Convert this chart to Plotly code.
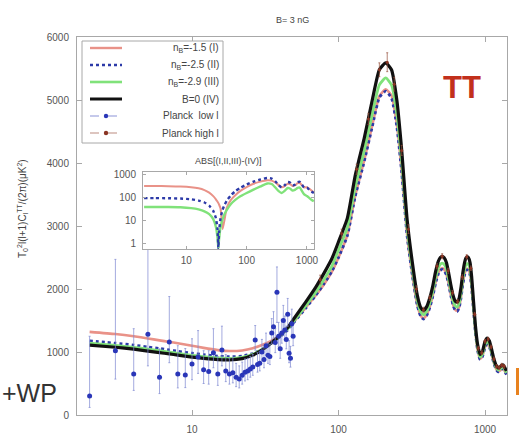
import plotly.graph_objects as go

# ---------------- data ----------------
# multipoles for the model spectra
ell = [2, 3, 4, 5, 6, 7, 8, 10, 12, 15, 18, 22, 26, 30, 35, 40, 45, 50, 60, 70, 80, 90,
       100, 115, 130, 150, 170, 190, 210, 230, 250, 270, 294, 320, 345, 365,
       380, 400, 420, 440, 460, 480, 495, 510, 525, 545, 565, 585, 605, 625, 645, 665,
       685, 705, 725, 740, 755, 770, 790, 810, 835, 860, 890, 925, 960, 1000, 1035,
       1070, 1110, 1150, 1190, 1230, 1270, 1300, 1330, 1360, 1400]

# n_B = -1.5 (I)
dl_I = [1320, 1285, 1250, 1215, 1185, 1160, 1140, 1100, 1065, 1030, 1015, 1025, 1060,
        1110, 1180, 1270, 1370, 1490, 1710, 1900, 2080, 2270, 2500, 2860, 3480, 4050,
        4600, 5060, 5170, 5070, 4620, 3880, 2860, 2210, 1750, 1570,
        1536, 1591, 1721, 1896, 2109, 2257, 2313, 2331, 2313, 2239, 2081, 1906, 1758,
        1674, 1656, 1711, 1869, 2081, 2239, 2303, 2322, 2313, 2239, 2035, 1665, 1314,
        1036, 888, 934, 1082, 1130, 1092, 962, 823, 731, 690, 708, 731, 734, 703, 648]

# n_B = -2.5 (II)
dl_II = [1175, 1140, 1110, 1080, 1055, 1033, 1012, 980, 958, 935, 925, 935, 975, 1035,
         1140, 1245, 1350, 1480, 1700, 1900, 2090, 2280, 2500, 2850, 3470, 4030, 4580,
         5040, 5140, 5030, 4580, 3850, 2840, 2200, 1740, 1560,
         1524, 1579, 1707, 1882, 2093, 2240, 2295, 2313, 2295, 2222, 2066, 1891, 1744,
         1662, 1643, 1698, 1854, 2066, 2222, 2286, 2304, 2295, 2222, 2020, 1652, 1304,
         1028, 881, 927, 1074, 1122, 1083, 955, 817, 725, 685, 702, 725, 729, 698, 643]

# n_B = -2.9 (III)
dl_III = [1140, 1105, 1075, 1045, 1020, 999, 979, 948, 927, 906, 899, 915, 965, 1040,
          1150, 1260, 1370, 1500, 1740, 1950, 2160, 2360, 2620, 2980, 3620, 4200, 4780,
          5240, 5350, 5240, 4780, 4020, 2970, 2300, 1820, 1630,
          1589, 1646, 1780, 1962, 2182, 2335, 2393, 2412, 2393, 2316, 2153, 1971, 1818,
          1732, 1713, 1770, 1933, 2153, 2316, 2383, 2402, 2393, 2316, 2105, 1723, 1359,
          1072, 919, 967, 1120, 1169, 1129, 995, 852, 756, 714, 732, 756, 760, 727, 670]

# B = 0 (IV)
dl_IV = [1110, 1075, 1045, 1015, 990, 970, 950, 920, 900, 880, 875, 895, 950, 1030,
         1150, 1270, 1390, 1540, 1800, 2030, 2260, 2480, 2750, 3130, 3800, 4400, 5000,
         5480, 5590, 5480, 5000, 4200, 3100, 2400, 1900, 1700,
         1660, 1720, 1860, 2050, 2280, 2440, 2500, 2520, 2500, 2420, 2250, 2060, 1900,
         1810, 1790, 1850, 2020, 2250, 2420, 2490, 2510, 2500, 2420, 2200, 1800, 1420,
         1120, 960, 1010, 1170, 1222, 1180, 1040, 890, 790, 746, 765, 790, 794, 760, 700]

# Planck low-l band powers
lowl_ell = list(range(2, 50))
lowl_dl = [300, 1020, 650, 1280, 600, 1160, 650, 635, 810, 920, 720, 690, 990, 650, 1030,
           700, 650, 670, 600, 570, 630, 680, 700, 730, 760, 1190, 800, 820, 1000, 880,
           1100, 950, 930, 1300, 1400, 1150, 1950, 1250, 1050, 1300, 1500, 1350, 1200,
           1600, 980, 900, 1450, 1250]
lowl_up = [950, 1450, 720, 1370, 450, 720, 450, 420, 400, 420, 300, 330, 380, 280, 380,
           260, 250, 240, 220, 210, 210, 210, 200, 200, 200, 230, 190, 190, 200, 190,
           200, 190, 190, 230, 240, 220, 400, 220, 200, 220, 240, 220, 210, 250, 200,
           190, 230, 210]
lowl_dn = [180, 450, 260, 500, 260, 330, 220, 200, 250, 260, 220, 200, 240, 180, 250,
           170, 160, 160, 150, 140, 140, 140, 140, 130, 130, 160, 120, 120, 140, 130,
           150, 130, 130, 170, 180, 160, 480, 160, 150, 160, 180, 160, 150, 190, 150,
           140, 170, 150]

# Planck high-l binned band powers
highl_ell = [75, 105, 133, 160, 190, 215, 240, 270, 300, 340, 380, 420, 470, 510, 560,
             600, 650, 700, 750, 800, 850, 900, 950, 1000, 1050, 1100, 1150, 1200, 1250,
             1300, 1350]
highl_dl = [2150, 2880, 3900, 4700, 5480, 5600, 5250, 4200, 2950, 2000, 1670, 1860, 2360,
            2520, 2290, 1940, 1800, 2190, 2510, 2330, 1600, 1060, 990, 1170, 1205, 1080,
            890, 770, 752, 790, 772]
highl_err = [70, 70, 80, 90, 110, 150, 110, 80, 70, 50, 40, 40, 40, 40, 40, 35, 35, 35,
             35, 35, 30, 30, 30, 30, 30, 30, 30, 30, 30, 30, 30]

# |(I,II,III) - (IV)| shown in the inset
ins_ell = [2, 3, 5, 8, 12, 16, 20, 24, 28, 31, 33, 34, 35, 37, 40, 43, 47, 55, 65, 80,
           100, 130, 170, 220, 260, 300, 340, 380, 430, 480, 530, 580, 640, 700, 760,
           820, 900, 1000, 1100, 1200, 1300]
ins_I = [300, 300, 298, 290, 270, 240, 200, 155, 110, 80, 62, 55, 47, 32, 4, 10, 35, 75,
         120, 190, 270, 380, 470, 540, 520, 430, 330, 270, 300, 380, 360, 300, 330, 400,
         420, 330, 260, 270, 230, 190, 160]
ins_II = [90, 90, 89, 86, 80, 70, 58, 42, 25, 12, 4, 0.6, 3, 12, 28, 45, 70, 120, 180,
          260, 350, 470, 580, 680, 640, 480, 330, 260, 330, 450, 420, 320, 350, 440, 460,
          360, 260, 260, 200, 170, 150]
ins_III = [37, 37, 37, 36, 33, 29, 24, 18, 11, 5, 1.6, 0.6, 1.5, 5, 11, 18, 28, 50, 75,
           110, 150, 210, 290, 390, 370, 260, 180, 150, 190, 250, 230, 190, 210, 250, 260,
           190, 130, 110, 90, 75, 65]

labels = ["n<sub>B</sub>=-1.5 (I)", "n<sub>B</sub>=-2.5 (II)", "n<sub>B</sub>=-2.9 (III)",
          "B=0 (IV)", "Planck  low l", "Planck high l"]

# ---------------- layout helpers ----------------
W, H = 519, 439
ML, MR, MT, MB = 77, 12, 37, 24
FONT = "Liberation Sans, Arial, Helvetica, sans-serif"


def px(x):
    return (x - ML) / (W - ML - MR)


def py(y):
    return (H - MB - y) / (H - MT - MB)


C_RED = "#e99288"
C_BLUE = "#2c3aa8"
C_GREEN = "#80e27a"
C_BLACK = "#111111"
C_LOW = "#2a36b8"
C_HIGH = "#8a3524"

model_styles = [
    (dl_I, dict(color=C_RED, width=2.6)),
    (dl_II, dict(color=C_BLUE, width=2.8, dash="dot")),
    (dl_III, dict(color=C_GREEN, width=2.8)),
    (dl_IV, dict(color=C_BLACK, width=3.2)),
]

fig = go.Figure()

for ys, ln in model_styles:
    fig.add_trace(go.Scatter(x=ell, y=ys, mode="lines",
                             line=dict(shape="spline", smoothing=0.5, **ln),
                             showlegend=False, hoverinfo="skip",
                             xaxis="x", yaxis="y"))

fig.add_trace(go.Scatter(
    x=lowl_ell, y=lowl_dl, mode="markers",
    marker=dict(size=5, color=C_LOW),
    error_y=dict(type="data", array=lowl_up, arrayminus=lowl_dn,
                 color="rgba(125,135,210,0.7)", thickness=1, width=1),
    showlegend=False, xaxis="x", yaxis="y"))

fig.add_trace(go.Scatter(
    x=highl_ell, y=highl_dl, mode="markers",
    marker=dict(size=3, color=C_HIGH),
    error_y=dict(type="data", array=highl_err, color="rgba(150,80,60,0.7)",
                 thickness=1, width=1),
    showlegend=False, xaxis="x", yaxis="y"))

# inset curves
for ys, ln in [(ins_I, dict(color=C_RED, width=2)),
               (ins_III, dict(color=C_GREEN, width=2.4)),
               (ins_II, dict(color=C_BLUE, width=2.4, dash="dot"))]:
    fig.add_trace(go.Scatter(x=ins_ell, y=ys, mode="lines",
                             line=dict(shape="spline", smoothing=0.5, **ln),
                             showlegend=False, hoverinfo="skip",
                             xaxis="x2", yaxis="y2"))

axis_common = dict(showgrid=False, zeroline=False, showline=True, linecolor="#a8a8a8",
                   linewidth=1, mirror="ticks", ticks="inside", tickcolor="#a8a8a8",
                   automargin=False,
                   tickfont=dict(family=FONT, size=10, color="#555"))

fig.update_layout(
    width=W, height=H,
    margin=dict(l=ML, r=MR, t=MT, b=MB),
    paper_bgcolor="white", plot_bgcolor="white",
    font=dict(family=FONT, color="#444"),
    xaxis=dict(type="log", range=[0.215, 3.15], tickvals=[10, 100, 1000],
               ticktext=["10", "100", "1000"], ticklen=5, ticklabelstandoff=5,
               domain=[0, 1], anchor="y", **axis_common),
    yaxis=dict(range=[0, 6000], tickvals=[0, 1000, 2000, 3000, 4000, 5000, 6000],
               ticklen=5, ticklabelstandoff=5, domain=[0, 1], anchor="x", **axis_common),
    xaxis2=dict(type="log", range=[0.283, 3.117], tickvals=[10, 100, 1000],
                ticktext=["10", "100", "1000"], ticklen=3, ticklabelstandoff=2,
                domain=[px(143), px(314)], anchor="y2", **axis_common),
    yaxis2=dict(type="log", range=[-0.26, 3.09], tickvals=[1, 10, 100, 1000],
                ticktext=["1", "10", "100", "1000"], ticklen=3, ticklabelstandoff=4,
                domain=[py(249), py(172)], anchor="x2", **axis_common),
)

shapes = []
annotations = []

# inset backdrop
shapes.append(dict(type="rect", xref="paper", yref="paper", layer="below",
                   x0=px(143), x1=px(314), y0=py(249), y1=py(172),
                   fillcolor="white", line=dict(width=0)))

# key box
shapes.append(dict(type="rect", xref="paper", yref="paper",
                   x0=px(82), x1=px(223), y0=py(143), y1=py(41),
                   fillcolor="white", line=dict(color="#a8a8a8", width=1)))

key_lines = [
    dict(color=C_RED, width=2.4),
    dict(color=C_BLUE, width=2.6, dash="dot"),
    dict(color=C_GREEN, width=2.6),
    dict(color=C_BLACK, width=3),
    dict(color="rgba(110,120,205,0.8)", width=1, dash="dash"),
    dict(color="rgba(170,110,95,0.8)", width=1, dash="dash"),
]
key_dots = [None, None, None, None, C_LOW, C_HIGH]
for i, (lab, ln) in enumerate(zip(labels, key_lines)):
    yy = 48 + 17 * i
    shapes.append(dict(type="line", xref="paper", yref="paper",
                       x0=px(90), x1=px(122), y0=py(yy), y1=py(yy), line=ln))
    if key_dots[i]:
        r = 2.2
        shapes.append(dict(type="circle", xref="paper", yref="paper",
                           x0=px(106 - r), x1=px(106 + r), y0=py(yy + r), y1=py(yy - r),
                           fillcolor=key_dots[i], line=dict(width=0)))
    annotations.append(dict(xref="paper", yref="paper", x=px(221), y=py(yy),
                            xanchor="right", yanchor="middle", showarrow=False,
                            text=lab, font=dict(family=FONT, size=10, color="#444")))

# titles and labels
annotations += [
    dict(xref="paper", yref="paper", x=px(292), y=py(20), text="B= 3 nG",
         showarrow=False, xanchor="center", yanchor="middle",
         font=dict(family=FONT, size=9, color="#444")),
    dict(xref="paper", yref="paper", x=px(228.5), y=py(161),
         text="ABS[(I,II,III)-(IV)]", showarrow=False, xanchor="center",
         yanchor="middle", font=dict(family=FONT, size=9, color="#444")),
    dict(xref="paper", yref="paper", x=px(22), y=py(209), textangle=-90,
         text="T<sub>0</sub><sup>2</sup>l(l+1)C<sub>l</sub><sup>TT</sup>/(2\u03c0)(\u03bcK<sup>2</sup>)",
         showarrow=False, xanchor="center", yanchor="middle",
         font=dict(family=FONT, size=10, color="#444")),
    dict(xref="paper", yref="paper", x=px(462), y=py(88), text="<b>TT</b>",
         showarrow=False, xanchor="center", yanchor="middle",
         font=dict(family=FONT, size=31, color="#c2301c")),
    dict(xref="paper", yref="paper", x=px(0), y=py(393), text="+WP",
         showarrow=False, xanchor="left", yanchor="middle",
         font=dict(family=FONT, size=25, color="#333")),
]

# orange tab at the right edge
shapes.append(dict(type="rect", xref="paper", yref="paper",
                   x0=px(516), x1=px(521), y0=py(395), y1=py(368),
                   fillcolor="#e8821e", line=dict(width=0)))

fig.update_layout(shapes=shapes, annotations=annotations)
fig.write_html("out.html")
